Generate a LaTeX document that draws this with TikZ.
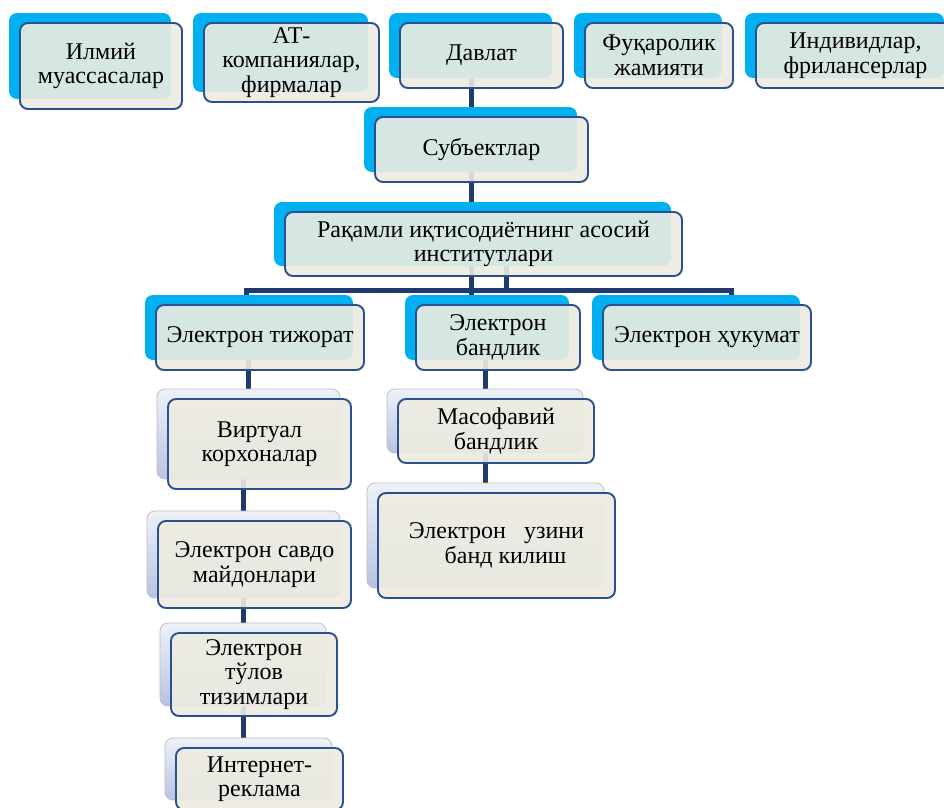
\documentclass[tikz,border=0pt]{standalone}
\usepackage{fontspec}
\setmainfont{Liberation Serif}
\newfontfamily\cardfont{Liberation Serif}
\usetikzlibrary{shadows,backgrounds}

\definecolor{cardline}{HTML}{2A5090}
\definecolor{cardfill}{HTML}{EEECE1}
\definecolor{topback}{HTML}{00B0F0}
\definecolor{linkcol}{HTML}{1F3B6D}
\definecolor{subtop}{HTML}{EEF1F8}
\definecolor{subbot}{HTML}{B7C3E3}

\tikzset{
  card/.style={draw=cardline, line width=1.9pt, rounded corners=8pt, fill=cardfill,
    fill opacity=0.9, text opacity=1, align=center, inner sep=2pt,
    font=\cardfont\fontsize{24}{24.5}\selectfont},
  topcard/.style={card, general shadow={fill=topback, fill opacity=1, draw=none,
    shadow xshift=-11pt, shadow yshift=10pt}},
  subcard/.style={card, general shadow={top color=subtop, bottom color=subbot,
    fill opacity=1, draw=black!25, line width=0.8pt, shadow xshift=-11pt, shadow yshift=10pt}},
  link/.style={draw=linkcol, line width=5pt},
}

\begin{document}
\begin{tikzpicture}[x=1pt, y=-1pt]
\useasboundingbox (0,0) rectangle (944,807);

% subjects
\node[topcard, minimum width=162pt, minimum height=86pt] (ilmiy) at (101,66) {Илмий\\муассасалар};
\node[topcard, minimum width=175pt, minimum height=79pt] (atkomp) at (291.5,62.5) {АТ-\\компаниялар,\\фирмалар};
\node[topcard, minimum width=163pt, minimum height=65pt] (davlat) at (481.5,55.5) {Давлат};
\node[topcard, minimum width=148pt, minimum height=65pt] (fuqaro) at (659,55.5) {Фуқаролик\\жамияти};
\node[topcard, minimum width=199pt, minimum height=65pt] (indiv) at (855.5,55.5) {Индивидлар,\\фрилансерлар};
\node[topcard, minimum width=213pt, minimum height=65pt] (subyekt) at (481.5,149.5) {Субъектлар};

% institutions
\node[topcard, minimum width=397pt, minimum height=64pt] (raqamli) at (483.5,244) {Рақамли иқтисодиётнинг асосий\\институтлари};
\node[topcard, minimum width=208pt, minimum height=65pt] (tijorat) at (260,337.5) {Электрон тижорат};
\node[topcard, minimum width=164pt, minimum height=65pt] (bandlik) at (498,337.5) {Электрон\\бандлик};
\node[topcard, minimum width=208pt, minimum height=65pt] (hukumat) at (707,337.5) {Электрон ҳукумат};

% e-commerce
\node[subcard, minimum width=183pt, minimum height=90pt] (virtual) at (259.5,444) {Виртуал\\корхоналар};
\node[subcard, minimum width=193pt, minimum height=87pt] (savdo) at (254.5,564.5) {Электрон савдо\\майдонлари};
\node[subcard, minimum width=166pt, minimum height=83pt] (tulov) at (254,674.5) {Электрон\\тўлов\\тизимлари};
\node[subcard, minimum width=167pt, minimum height=62pt] (reklama) at (259.5,779) {Интернет-\\реклама};

% e-employment
\node[subcard, minimum width=196pt, minimum height=64pt] (masofa) at (496,431) {Масофавий\\бандлик};
\node[subcard, minimum width=237pt, minimum height=105pt] (uzini) at (496.5,545.5) {Электрон~~~узини\\\hspace*{18pt}банд килиш};

\coordinate (bus) at (483.5,290);

\begin{pgfonlayer}{background}
\fill[white] (0,0) rectangle (944,807);
\draw[link] ([xshift=-10.5pt]davlat.center) -- ([xshift=-10.5pt]davlat.center |- bandlik.north);
\draw[link] ([xshift=22.5pt]raqamli.center) -- ([xshift=22.5pt]raqamli.center |- bus);
\draw[link] ([xshift=-14pt]tijorat.north) |- (bus) -| ([xshift=24pt]hukumat.north);
\draw[link] ([xshift=-12pt]tijorat.center) -- ([xshift=-12pt]tijorat.center |- virtual.north);
\draw[link] ([xshift=-16.5pt]virtual.center) -- ([xshift=-16.5pt]virtual.center |- reklama.center);
\draw[link] ([xshift=-12.5pt]bandlik.center) -- ([xshift=-12.5pt]bandlik.center |- uzini.center);
\end{pgfonlayer}
\end{tikzpicture}
\end{document}
